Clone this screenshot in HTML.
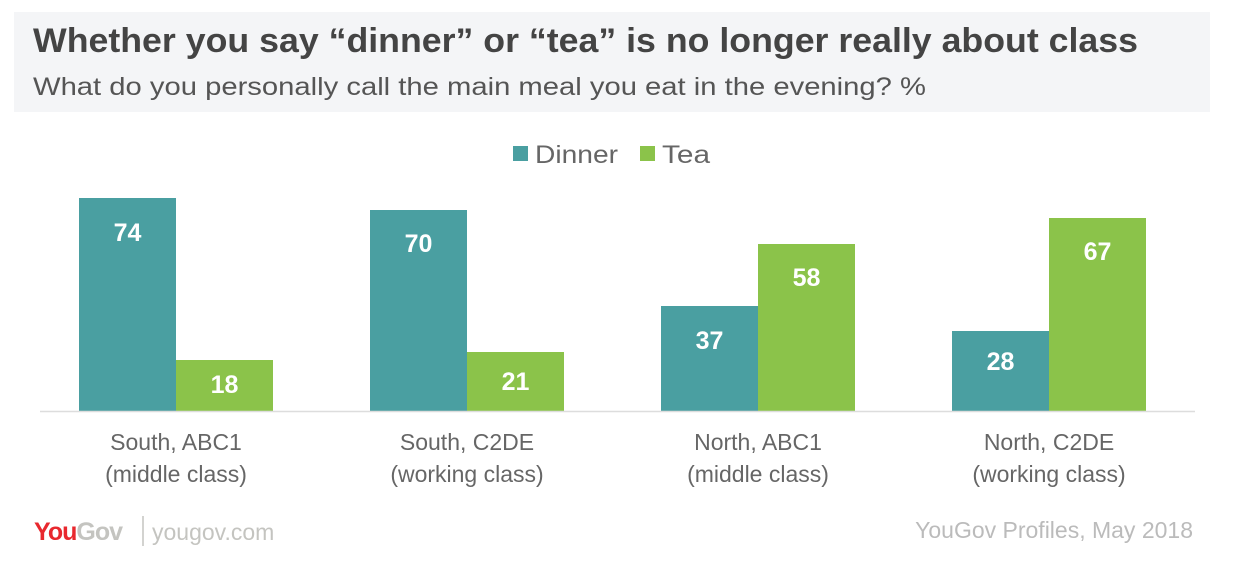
<!DOCTYPE html>
<html><head><meta charset="utf-8"><style>
body{margin:0;width:1238px;height:574px;background:#fff;overflow:hidden;font-family:"Liberation Sans",sans-serif}
</style></head><body>
<svg width="1238" height="574" xmlns="http://www.w3.org/2000/svg" font-family="Liberation Sans, sans-serif">
<rect x="14" y="12" width="1196" height="100" fill="#f4f5f7"/>
<text x="33" y="52" font-size="34" font-weight="bold" fill="#444" textLength="1105" lengthAdjust="spacingAndGlyphs">Whether you say “dinner” or “tea” is no longer really about class</text>
<text x="33" y="95" font-size="25" fill="#555" textLength="893" lengthAdjust="spacingAndGlyphs">What do you personally call the main meal you eat in the evening? %</text>
<rect x="513" y="146" width="15" height="15" fill="#4a9fa1"/>
<text x="535" y="163" font-size="25" fill="#666" textLength="83" lengthAdjust="spacingAndGlyphs">Dinner</text>
<rect x="640" y="146" width="15" height="15" fill="#8bc34a"/>
<text x="662" y="163" font-size="25" fill="#666" textLength="48" lengthAdjust="spacingAndGlyphs">Tea</text>
<g font-weight="bold" font-size="25" fill="#fff" text-anchor="middle">
<rect x="79" y="198" width="97" height="213" fill="#4a9fa1"/><text x="127.5" y="241">74</text>
<rect x="176" y="360" width="97" height="51" fill="#8bc34a"/><text x="224.5" y="393">18</text>
<rect x="370" y="210" width="97" height="201" fill="#4a9fa1"/><text x="418.5" y="252">70</text>
<rect x="467" y="352" width="97" height="59" fill="#8bc34a"/><text x="515.5" y="390">21</text>
<rect x="661" y="306" width="97" height="105" fill="#4a9fa1"/><text x="709.5" y="349">37</text>
<rect x="758" y="244" width="97" height="167" fill="#8bc34a"/><text x="806.5" y="286">58</text>
<rect x="952" y="331" width="97" height="80" fill="#4a9fa1"/><text x="1000.5" y="370">28</text>
<rect x="1049" y="218" width="97" height="193" fill="#8bc34a"/><text x="1097.5" y="260">67</text>
</g>
<line x1="40" y1="411.5" x2="1195" y2="411.5" stroke="#ddd" stroke-width="1.5"/>
<g font-size="23" fill="#666" text-anchor="middle">
<text x="176" y="450">South, ABC1</text><text x="176" y="482">(middle class)</text>
<text x="467" y="450">South, C2DE</text><text x="467" y="482">(working class)</text>
<text x="758" y="450">North, ABC1</text><text x="758" y="482">(middle class)</text>
<text x="1049" y="450">North, C2DE</text><text x="1049" y="482">(working class)</text>
</g>
<text x="34" y="540" font-size="25" font-weight="bold" fill="#e8282e" letter-spacing="-1">You<tspan fill="#c4c4c0">Gov</tspan></text>
<line x1="143" y1="516" x2="143" y2="546" stroke="#c4c4c0" stroke-width="1.5"/>
<text x="152" y="540" font-size="23" fill="#c4c4c0">yougov.com</text>
<text x="1193" y="538" font-size="23" fill="#bbb" text-anchor="end">YouGov Profiles, May 2018</text>
</svg>
</body></html>
